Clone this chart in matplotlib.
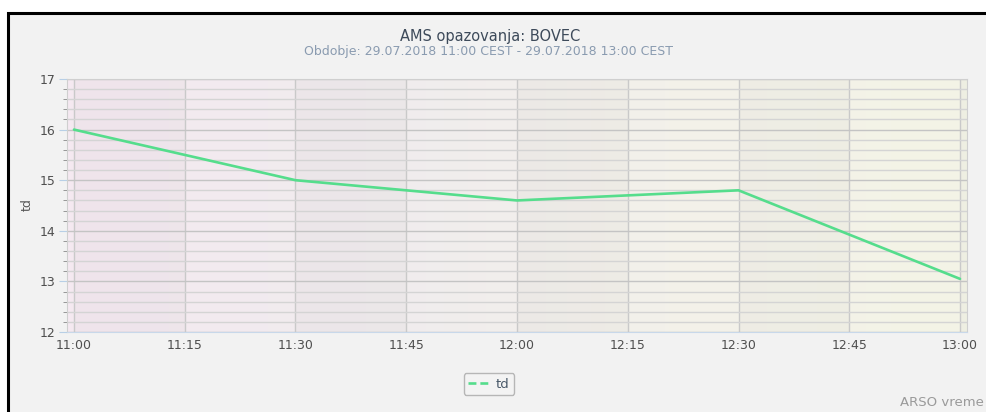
import matplotlib
matplotlib.use("Agg")
import matplotlib.pyplot as plt
import numpy as np
from matplotlib.patches import Rectangle
from matplotlib.lines import Line2D
from matplotlib.colors import LinearSegmentedColormap

# ---- data ----
time_labels = ["11:00", "11:15", "11:30", "11:45", "12:00", "12:15", "12:30", "12:45", "13:00"]
obs_minutes = [0, 30, 60, 90, 120]          # minutes after 11:00
td_values = [16.0, 15.0, 14.6, 14.8, 13.05]
y_ticks = [12, 13, 14, 15, 16, 17]
title = "AMS opazovanja: BOVEC"
subtitle = "Obdobje: 29.07.2018 11:00 CEST - 29.07.2018 13:00 CEST"
series_name = "td"

W, H = 986, 412
fig = plt.figure(figsize=(W / 100, H / 100), dpi=100, facecolor="white")

# outer framed panel
fig.patches.append(Rectangle((8 / W, -0.2), 1.2, (H - 13) / H + 0.2,
                             transform=fig.transFigure, facecolor="#f2f2f2",
                             edgecolor="black", linewidth=2.2, zorder=-5))

x0, x1, yt, yb = 66.6, 967.4, 79, 332
ax = fig.add_axes([x0 / W, (H - yb) / H, (x1 - x0) / W, (yb - yt) / H])
ax.set_zorder(1)
ax.set_xlim(-1, 121)
ax.set_ylim(12, 17)

# gradient background
cmap = LinearSegmentedColormap.from_list("bg", ["#f5e9f1", "#f0ecee", "#f3f1ea", "#f3f4e6"])
grad = np.linspace(0, 1, 256).reshape(1, -1)
ax.imshow(grad, extent=[-1, 121, 12, 17], aspect="auto", cmap=cmap, zorder=0)
for s in range(0, 121, 30):
    ax.axvspan(s, min(s + 15, 121), color="#9a9a9a", alpha=0.05, lw=0, zorder=0.5)

# grid
ax.set_xticks(range(0, 121, 15))
ax.set_xticklabels(time_labels)
ax.set_yticks(y_ticks)
ax.set_yticks(np.arange(12, 17.01, 0.2), minor=True)
ax.grid(True, which="major", axis="x", color="#c9c9c9", lw=1.0, zorder=1)
ax.grid(True, which="major", axis="y", color="#c4c4c4", lw=1.0, zorder=1)
ax.grid(True, which="minor", axis="y", color="#d4d4d4", lw=1.0, zorder=1)
ax.set_axisbelow(True)

ax.plot(obs_minutes, td_values, color="#55dd8c", lw=1.9, zorder=3, solid_capstyle="round")

for side in ["top", "right", "left"]:
    ax.spines[side].set_color("#cfcfcf")
ax.spines["bottom"].set_color("#c8d8ea")

ax.tick_params(axis="x", length=0, pad=5, labelsize=9, labelcolor="#4f4f4f")
ax.tick_params(axis="y", which="major", length=6, color="#b8cfe6", direction="out",
               pad=2, labelsize=9, labelcolor="#4f4f4f")
ax.tick_params(axis="y", which="minor", length=3, color="#888888", direction="out")

fig.text(27 / W, 1 - 205 / H, series_name, rotation=90, ha="center", va="center",
         fontsize=9, color="#555555")

fig.text(490 / W, 1 - 36 / H, title, ha="center", va="center", fontsize=10.5, color="#3d4a5a")
fig.text(488 / W, 1 - 51 / H, subtitle, ha="center", va="center", fontsize=9, color="#8a9bb0")

proxy = Line2D([], [], color="#55dd8c", lw=1.9, linestyle=(0, (3, 1.5)))
leg = fig.legend([proxy], [series_name], loc="center", bbox_to_anchor=(489 / W, 1 - 384 / H),
                 frameon=True, fancybox=True, fontsize=9.5, handlelength=1.6,
                 handletextpad=0.5, borderpad=0.35, labelcolor="#4a5a6a")
leg.get_frame().set_edgecolor("#a8a8a8")
leg.get_frame().set_facecolor("#f4f4f4")
leg.get_frame().set_linewidth(1.0)

fig.text(984 / W, 1 - 403 / H, "ARSO vreme", ha="right", va="center", fontsize=9.5, color="#9a9a9a")

fig.savefig("out.png", dpi=100, facecolor="white")
